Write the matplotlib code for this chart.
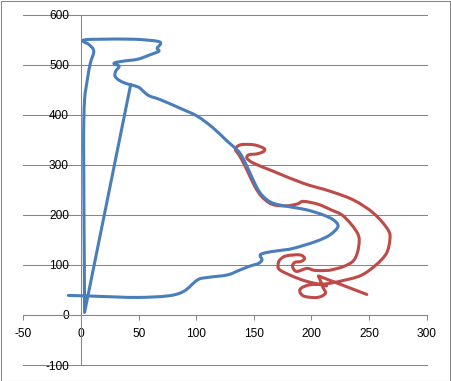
import numpy as np
import matplotlib
matplotlib.use("Agg")
import matplotlib.pyplot as plt
from matplotlib.path import Path
from matplotlib.patches import PathPatch, Rectangle

# ----------------------------------------------------------------
# data (knots of the two smoothed scatter lines)
# ----------------------------------------------------------------
blue_x = [-11, 5, 30, 50, 75, 89, 101, 110, 127, 138, 147, 154, 157, 155.5, 161.5,
          173, 184, 204, 216, 223, 219, 210, 196, 184, 167, 158, 152, 144, 138,
          132, 126, 115, 101, 86, 69, 59, 54, 50, 43, 38.5, 33, 29.5, 30, 33, 28.5,
          36, 49, 60, 67.5, 66, 69, 66, 46, 17, 4, 1.5, 7, 11, 8, 5.4, 3, 2.2,
          2.3, 2.5, 2.8, 3, 43]
blue_y = [39, 38, 36, 35, 38, 47, 70, 75, 80, 90, 98, 103, 110, 120, 125,
          129, 133, 147, 160, 177, 190, 200, 210, 215, 223, 237, 257, 297, 323,
          337, 349, 373, 397, 413, 430, 438, 447, 455, 460, 463, 469, 477, 487, 497, 503,
          507, 511, 520, 527, 533, 542, 547, 551, 551, 550, 547, 540, 527, 503, 470, 430, 363,
          300, 200, 100, 5, 460]
blue_corners = [65]

red_x = [213, 196, 184, 172.5, 171, 172.5, 178, 190, 194, 191, 185.5, 183.5, 187, 196, 203,
         213, 217, 228, 237, 241, 240, 228, 217, 206, 193, 188, 178, 166, 157, 150.5,
         142.5, 137, 134, 138.4, 150, 158.6, 158.6, 153, 145.6, 144, 150, 167, 193, 216.5,
         237, 254, 266.5, 268, 265, 256, 243, 226, 212, 198, 190, 193, 205, 212, 210, 206,
         248]
red_y = [58, 67, 77, 90, 100, 110, 118, 120, 113, 107, 105, 97, 87, 93, 89,
         89, 90, 97, 110, 137, 163, 197, 210, 221, 227, 222, 218, 221, 236, 258,
         297, 320, 331, 340, 340, 333, 327, 322, 320, 313, 303, 287, 263, 247,
         229, 203, 170, 150, 123, 100, 79, 68, 62, 60, 51, 38, 35, 43, 55, 78,
         41]
red_corners = [59]

x_ticks = [-50, 0, 50, 100, 150, 200, 250, 300]
y_ticks = [-100, 0, 100, 200, 300, 400, 500, 600]

BLUE = '#4A7EBB'
RED = '#BE4B48'
GREY = '#868686'


# ----------------------------------------------------------------
# Excel-like smoothed line: cubic Bezier through every knot,
# restarting the smoothing at the corner knots
# ----------------------------------------------------------------
def smooth_path(xs, ys, corners):
    pts = np.column_stack([xs, ys]).astype(float)
    cuts = [0] + sorted(corners) + [len(pts) - 1]
    verts = [pts[0]]
    codes = [Path.MOVETO]
    for a, b in zip(cuts[:-1], cuts[1:]):
        seg = pts[a:b + 1]
        n = len(seg)
        for i in range(n - 1):
            p0 = seg[max(i - 1, 0)]
            p1 = seg[i]
            p2 = seg[i + 1]
            p3 = seg[min(i + 2, n - 1)]
            verts += [p1 + (p2 - p0) / 6, p2 - (p3 - p1) / 6, p2]
            codes += [Path.CURVE4] * 3
    return Path(verts, codes)


fig = plt.figure(figsize=(4.52, 3.81), dpi=100)
ax = fig.add_axes([23.5 / 452, 16 / 381, 403.2 / 452, 350.3 / 381])

ax.set_xlim(-50, 300)
ax.set_ylim(-100, 600)
ax.set_xticks(x_ticks)
ax.set_yticks(y_ticks)

for side in ['top', 'right']:
    ax.spines[side].set_visible(False)
ax.spines['left'].set_position(('data', 0))
ax.spines['bottom'].set_position(('data', 0))
for side in ['left', 'bottom']:
    ax.spines[side].set_color(GREY)
    ax.spines[side].set_linewidth(0.75)

ax.yaxis.grid(True, color=GREY, linewidth=0.75)
ax.set_axisbelow(True)
for t in ax.yaxis.get_major_ticks():
    t.gridline.set_clip_on(False)

font = {'family': 'Liberation Sans', 'size': 8.6}
ax.tick_params(axis='x', direction='out', length=3.6, width=0.75, color=GREY, pad=6.0)
ax.tick_params(axis='y', length=0, pad=8.8)
ax.set_xticklabels([str(v) for v in x_ticks], fontdict=font)
ax.set_yticklabels([str(v) for v in y_ticks], fontdict=font)

# red first, blue drawn over it where they run together
for xs, ys, corners, colour, z in [(red_x, red_y, red_corners, RED, 3),
                                   (blue_x, blue_y, blue_corners, BLUE, 4)]:
    patch = PathPatch(smooth_path(xs, ys, corners), facecolor='none', edgecolor=colour,
                      linewidth=2.2, capstyle='round', joinstyle='round', zorder=z)
    ax.add_patch(patch)

# outer chart border
fig.patches.append(Rectangle((0.5 / 452, 0.5 / 381), 450 / 452, 380 / 381,
                             transform=fig.transFigure, fill=False,
                             edgecolor=GREY, linewidth=0.75))

fig.savefig('out.png', dpi=100)
